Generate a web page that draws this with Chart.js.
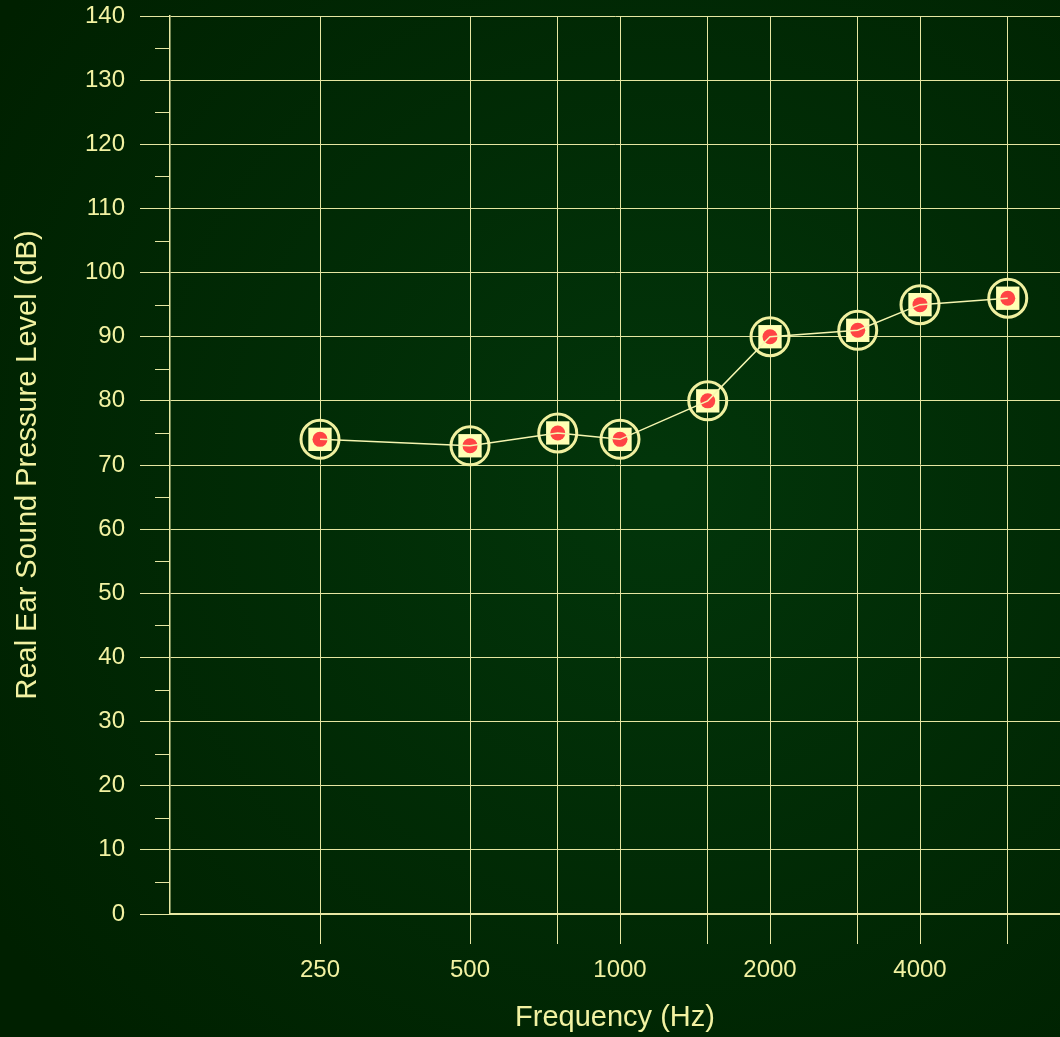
<!DOCTYPE html>
<html>
<head>
<meta charset="utf-8">
<script src="https://cdn.jsdelivr.net/npm/chart.js@4/dist/chart.umd.min.js"></script>
<style>
  html, body { margin: 0; padding: 0; background: #002400; }
  #wrap { width: 1060px; height: 1037px; }
</style>
</head>
<body>
<div id="wrap"><canvas id="c" width="1060" height="1037"></canvas></div>
<script>
// ---- data ----
const frequencies = [250, 500, 750, 1000, 1500, 2000, 3000, 4000, 6000];
const splValues   = [74, 73, 75, 74, 80, 90, 91, 95, 96];
const xTickValues = [250, 500, 750, 1000, 1500, 2000, 3000, 4000, 6000];
const xTickLabels = ['250', '500', '', '1000', '', '2000', '', '4000', ''];
const yMinorTicks = [5, 15, 25, 35, 45, 55, 65, 75, 85, 95, 105, 115, 125, 135];

const TEXT = '#f2f2a2';
const GRID = '#e6e6a2';
const FONT = 'Liberation Sans, Arial, sans-serif';

const points = frequencies.map((f, i) => ({ x: f, y: splValues[i] }));

const bgPlugin = {
  id: 'bg',
  beforeDraw(chart) {
    const ctx = chart.ctx;
    const g = ctx.createRadialGradient(660, 480, 20, 660, 480, 800);
    g.addColorStop(0, '#02350a');
    g.addColorStop(1, '#002000');
    ctx.save();
    ctx.fillStyle = g;
    ctx.fillRect(0, 0, chart.width, chart.height);
    ctx.restore();
  }
};

const minorTickPlugin = {
  id: 'minorTicks',
  afterDraw(chart) {
    const s = chart.scales.y;
    const ctx = chart.ctx;
    ctx.save();
    ctx.strokeStyle = GRID;
    ctx.lineWidth = 1;
    yMinorTicks.forEach(v => {
      const y = Math.round(s.getPixelForValue(v)) + 0.5;
      ctx.beginPath();
      ctx.moveTo(s.right - 15, y);
      ctx.lineTo(s.right, y);
      ctx.stroke();
    });
    ctx.restore();
  }
};

new Chart(document.getElementById('c'), {
  type: 'scatter',
  data: {
    datasets: [
      { // connecting line, on top
        data: points, showLine: true, order: 0,
        borderColor: '#f6f6b0', borderWidth: 1.5,
        pointRadius: 0, pointHoverRadius: 0, fill: false
      },
      { // red dot
        data: points, order: 1, pointStyle: 'circle',
        pointRadius: 7.5, pointHoverRadius: 7.5,
        backgroundColor: '#ff4444', borderColor: '#ff4444', borderWidth: 0
      },
      { // pale square
        data: points, order: 2, pointStyle: 'rect',
        pointRadius: 16.5, pointHoverRadius: 16.5,
        backgroundColor: '#ffffb4', borderColor: '#ffffb4', borderWidth: 0
      },
      { // outer ring
        data: points, order: 3, pointStyle: 'circle',
        pointRadius: 19, pointHoverRadius: 19,
        backgroundColor: 'rgba(0,0,0,0)', borderColor: '#f0f0a0', borderWidth: 3
      }
    ]
  },
  options: {
    responsive: false,
    animation: false,
    events: [],
    layout: { autoPadding: false, padding: { top: 16, left: 0, right: 0, bottom: 0 } },
    plugins: { legend: { display: false }, tooltip: { enabled: false } },
    scales: {
      x: {
        type: 'logarithmic',
        min: 125,
        max: 4000 * Math.pow(2, 140 / 150),
        afterBuildTicks(scale) {
          scale.ticks = xTickValues.map(v => ({ value: v }));
        },
        afterFit(scale) {
          scale.height = 123;
          scale.paddingLeft = 0;
          scale.paddingRight = 0;
        },
        ticks: {
          autoSkip: false, maxRotation: 0, minRotation: 0,
          color: TEXT, padding: 12,
          font: { family: FONT, size: 24 },
          callback(value) {
            const i = xTickValues.indexOf(value);
            return i >= 0 ? xTickLabels[i] : '';
          }
        },
        grid: { color: GRID, lineWidth: 1, tickLength: 30, tickColor: GRID },
        border: { display: true, color: '#e8e8a4', width: 2 },
        title: {
          display: true, text: 'Frequency (Hz)', color: TEXT,
          font: { family: FONT, size: 29, lineHeight: 1 },
          padding: { top: 5, bottom: 5 }
        }
      },
      y: {
        type: 'linear', min: 0, max: 140,
        afterFit(scale) {
          scale.width = 170;
          scale.paddingTop = 0;
          scale.paddingBottom = 0;
        },
        ticks: {
          stepSize: 10, color: TEXT, padding: 15,
          font: { family: FONT, size: 24 }
        },
        grid: { color: GRID, lineWidth: 1, tickLength: 30, tickColor: GRID },
        border: { display: true, color: '#e8e8a4', width: 1.5 },
        title: {
          display: true, text: 'Real Ear Sound Pressure Level (dB)', color: TEXT,
          font: { family: FONT, size: 29, lineHeight: 1 },
          padding: { top: 13, bottom: 0 }
        }
      }
    }
  },
  plugins: [bgPlugin, minorTickPlugin]
});
</script>
</body>
</html>
